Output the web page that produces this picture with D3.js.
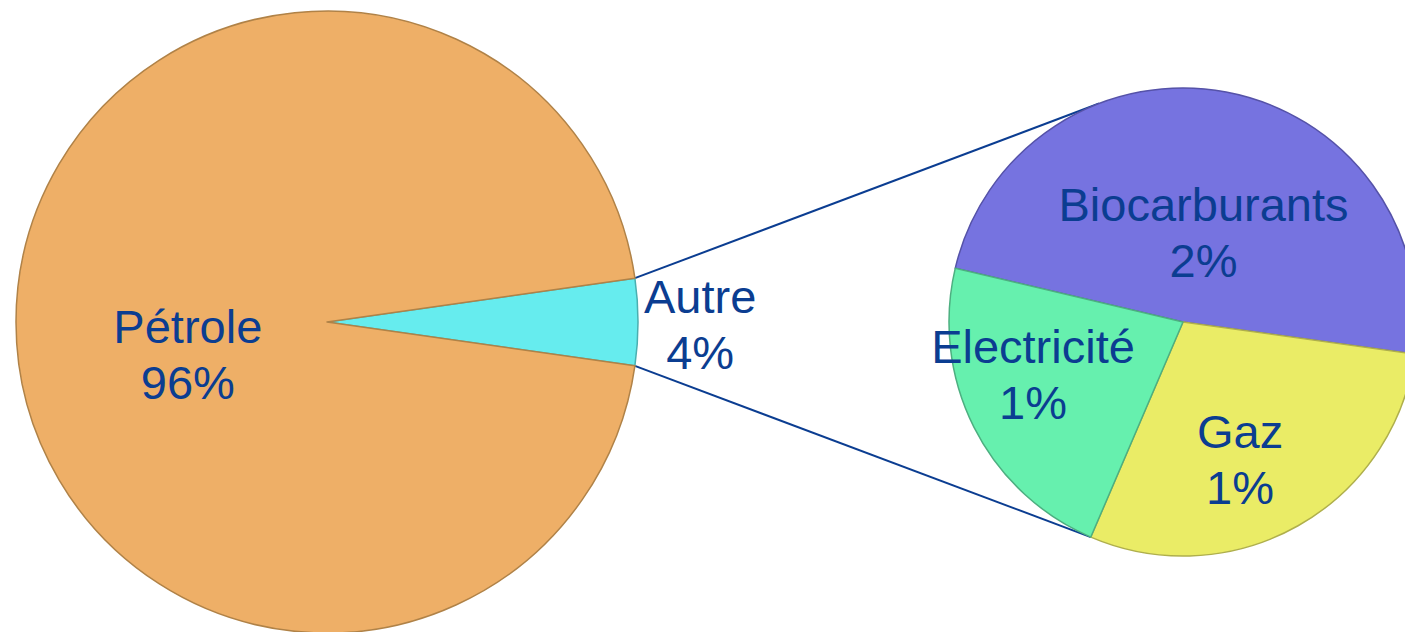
<!DOCTYPE html>
<html>
<head>
<meta charset="utf-8">
<script src="https://cdn.jsdelivr.net/npm/d3@7"></script>
<style>
  body { margin: 0; background: #fff; }
  svg { display: block; }
  .lbl { font-family: "Liberation Sans", Arial, sans-serif; font-size: 47px; fill: #0b3d91; text-anchor: middle; }
</style>
</head>
<body>
<svg id="chart" width="1405" height="632"></svg>
<script>
// main pie
var mainNames = ["Autre", "Pétrole"];
var mainValues = [4.5, 95.5];
var mainLabels = ["4%", "96%"];
var mainColors = ["#66ecee", "#eeaf67"];
var mainStrokes = ["#4aafb0", "#b08247"];

// breakdown of "Autre"
var subNames = ["Biocarburants", "Gaz", "Electricité"];
var subValues = [1.94, 1.17, 0.89];
var subLabels = ["2%", "1%", "1%"];
var subColors = ["#7673e0", "#eaec66", "#66f0ae"];
var subStrokes = ["#5552a8", "#afaf4c", "#4daf80"];

var svg = d3.select("#chart");
var deg = Math.PI / 180;

var main = {cx: 327, cy: 322, r: 311};
var sub = {cx: 1183, cy: 322, r: 234};

// label placement: angle (deg) and radius fraction
var labelPlace = {
  "Pétrole": [256.6, 0.46],
  "Autre": [90.5, 1.2],
  "Biocarburants": [13, 0.39],
  "Gaz": [157.6, 0.64],
  "Electricité": [250.5, 0.68]
};

var mainTotal = d3.sum(mainValues);
var mainStart = Math.PI / 2 - Math.PI * mainValues[0] / mainTotal;
var mainPie = d3.pie().sort(null)
    .startAngle(mainStart).endAngle(mainStart + 2 * Math.PI);
var subStart = -76.7 * deg;
var subPie = d3.pie().sort(null)
    .startAngle(subStart).endAngle(subStart + 2 * Math.PI);

var mainArcs = mainPie(mainValues);
var subArcs = subPie(subValues);

function pt(c, a, rr) {
  return [c.cx + rr * Math.sin(a), c.cy - rr * Math.cos(a)];
}

// connector lines
var autre = mainArcs[0];
var gazEnd = subArcs[1].endAngle;
var lines = [
  [pt(main, autre.startAngle, main.r), pt(sub, -21 * deg, sub.r)],
  [pt(main, autre.endAngle, main.r), pt(sub, gazEnd, sub.r)]
];
svg.selectAll(".conn").data(lines).enter().append("line")
    .attr("class", "conn")
    .attr("x1", function(d){ return d[0][0]; })
    .attr("y1", function(d){ return d[0][1]; })
    .attr("x2", function(d){ return d[1][0]; })
    .attr("y2", function(d){ return d[1][1]; })
    .attr("stroke", "#0b3d91").attr("stroke-width", 2);

function drawPie(c, arcs, colors, strokes) {
  var g = svg.append("g").attr("transform", "translate(" + c.cx + "," + c.cy + ")");
  var arc = d3.arc().innerRadius(0).outerRadius(c.r);
  g.selectAll("path").data(arcs).enter().append("path")
      .attr("d", arc)
      .attr("fill", function(d, i){ return colors[i]; })
      .attr("stroke", function(d, i){ return strokes[i]; })
      .attr("stroke-width", 1.5)
      .attr("stroke-linejoin", "round");
}
drawPie(main, mainArcs, mainColors, mainStrokes);
drawPie(sub, subArcs, subColors, subStrokes);

function drawLabels(c, names, labels) {
  names.forEach(function(n, i) {
    var p = labelPlace[n];
    var xy = pt(c, p[0] * deg, p[1] * c.r);
    var b1 = xy[1] - 12;
    var t = svg.append("text").attr("class", "lbl").attr("x", xy[0]).attr("y", b1);
    t.append("tspan").attr("x", xy[0]).attr("y", b1).text(n);
    t.append("tspan").attr("x", xy[0]).attr("y", b1 + 56).text(labels[i]);
  });
}
drawLabels(main, mainNames, mainLabels);
drawLabels(sub, subNames, subLabels);
</script>
</body>
</html>
